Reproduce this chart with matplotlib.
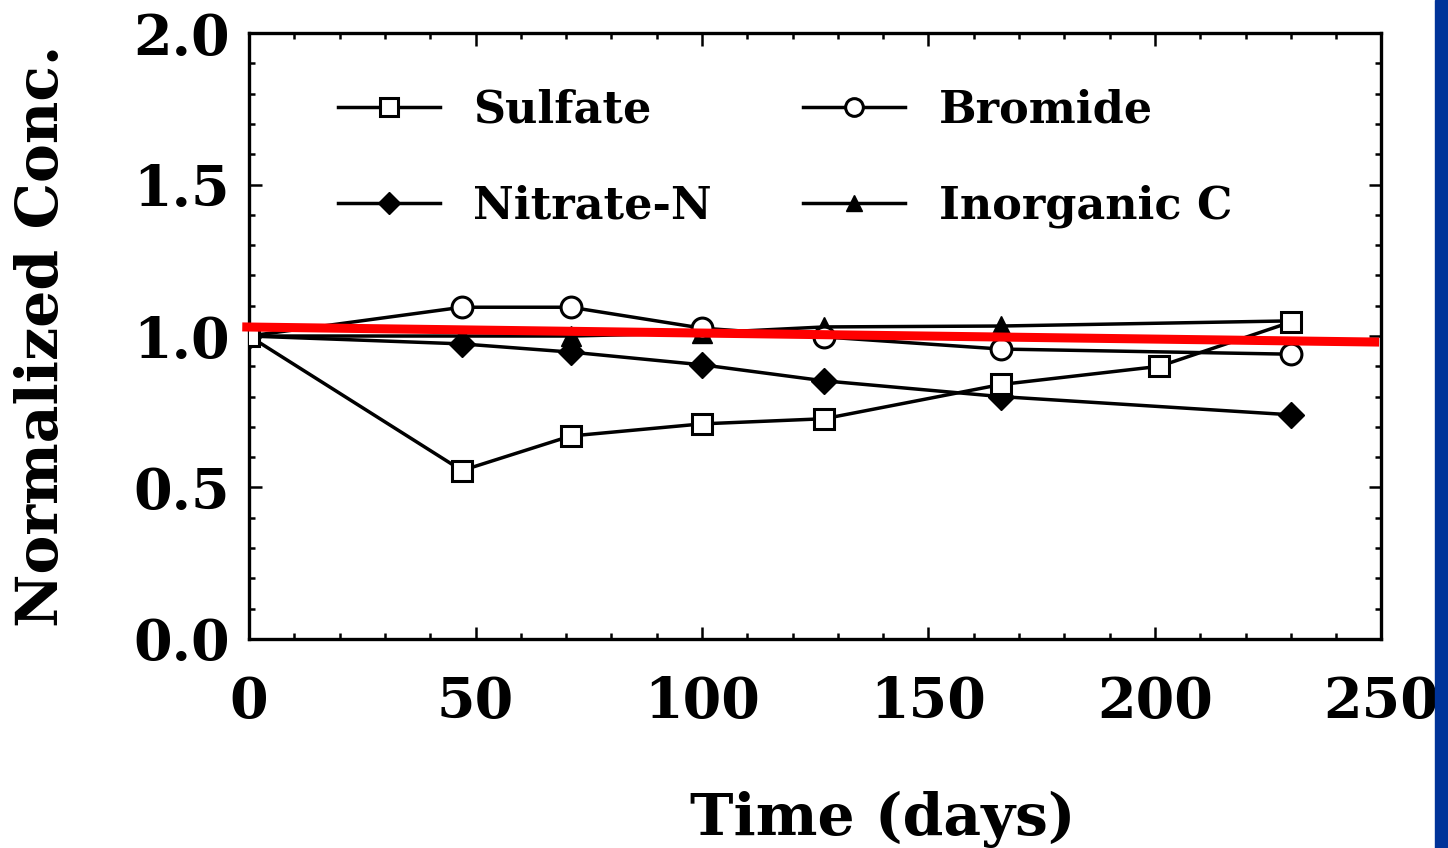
import numpy as np
import matplotlib
matplotlib.use("Agg")
import matplotlib.pyplot as plt
from matplotlib.ticker import MultipleLocator
from matplotlib.patches import Rectangle

# data
days = [0, 47, 71, 100, 127, 166, 201, 230]
sulfate = [1.0, 0.556, 0.67, 0.71, 0.727, 0.84, 0.90, 1.046]

days_b = [0, 47, 71, 100, 127, 166, 230]
bromide = [1.0, 1.095, 1.095, 1.026, 0.997, 0.957, 0.94]
nitrate = [1.0, 0.974, 0.947, 0.905, 0.852, 0.80, 0.74]
inorg_c = [1.0, 1.0, 1.0, 1.01, 1.03, 1.033, 1.05]

# red trend line drawn over the chart
red_x = [-1.5, 249.5]
red_y = [1.03, 0.98]

plt.rcParams['font.family'] = ['DejaVu Serif']
plt.rcParams['font.weight'] = 'bold'

fig = plt.figure(figsize=(14.48, 8.48), dpi=100)
ax = fig.add_axes([0.172, 0.2465, 0.782, 0.7145])

lw = 2.5
mew = 2.2
l1, = ax.plot(days, sulfate, color='k', lw=lw, marker='s', ms=15, mfc='white', mec='k', mew=mew, label='Sulfate', zorder=4)
l2, = ax.plot(days_b, bromide, color='k', lw=lw, marker='o', ms=15, mfc='white', mec='k', mew=mew, label='Bromide', zorder=3)
l3, = ax.plot(days_b, nitrate, color='k', lw=lw, marker='D', ms=13, mfc='k', mec='k', label='Nitrate-N', zorder=3)
l4, = ax.plot(days_b, inorg_c, color='k', lw=lw, marker='^', ms=14, mfc='k', mec='k', label='Inorganic C', zorder=2)

ax.plot(red_x, red_y, color='#ff0000', lw=6.5, solid_capstyle='butt', clip_on=False, zorder=6)

ax.set_xlim(0, 250)
ax.set_ylim(0, 2.0)
ax.xaxis.set_major_locator(MultipleLocator(50))
ax.xaxis.set_minor_locator(MultipleLocator(10))
ax.yaxis.set_major_locator(MultipleLocator(0.5))
ax.yaxis.set_minor_locator(MultipleLocator(0.1))
ax.yaxis.set_major_formatter(matplotlib.ticker.FormatStrFormatter('%.1f'))

ax.tick_params(which='both', direction='in', top=True, right=True, width=1.8, labelsize=40)
ax.tick_params(which='major', length=9)
ax.tick_params(which='minor', length=4.5)
ax.tick_params(axis='x', pad=26)
ax.tick_params(axis='y', pad=14)
for sp in ax.spines.values():
    sp.set_linewidth(2.4)

ax.set_xlabel('Time (days)', fontsize=42, fontweight='bold')
ax.set_ylabel('Normalized Conc.', fontsize=42, fontweight='bold')
ax.xaxis.set_label_coords(0.56, -0.25)
ax.yaxis.set_label_coords(-0.158, 0.5)

leg = ax.legend(handles=[l1, l3, l2, l4], ncol=2, frameon=False, fontsize=32,
                loc='upper left', bbox_to_anchor=(0.043, 0.975),
                handlelength=2.3, handletextpad=0.75, columnspacing=2.05,
                labelspacing=1.2, markerscale=0.85)

# blue strip at the right edge
fig.patches.append(Rectangle((1435 / 1448, 0), 13 / 1448, 1, transform=fig.transFigure,
                             color='#003399', zorder=10))

fig.savefig('out.png', dpi=100)
